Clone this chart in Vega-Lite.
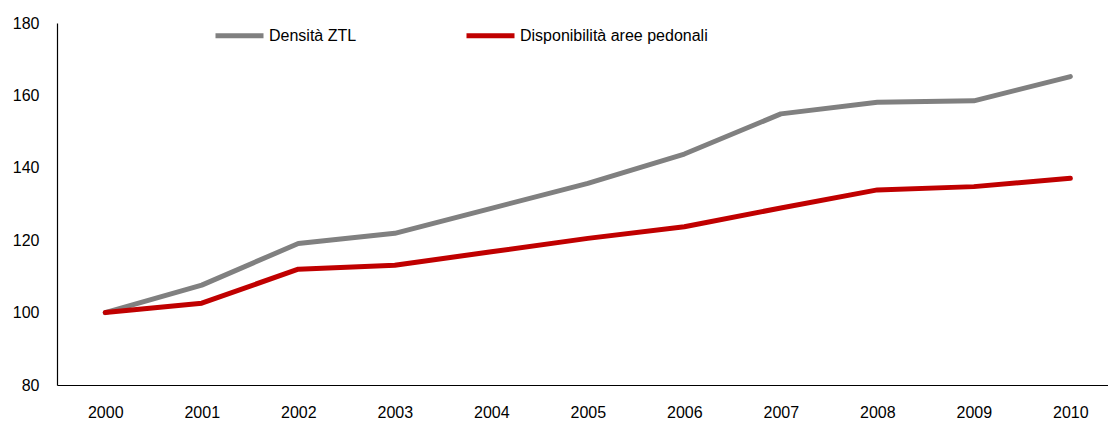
{
  "$schema": "https://vega.github.io/schema/vega-lite/v6.json",
  "width": 1051,
  "height": 362,
  "autosize": {"type": "none"},
  "padding": {"left": 57, "top": 23, "right": 0, "bottom": 37},
  "background": "white",
  "config": {
    "view": {"stroke": null},
    "font": "Liberation Sans"
  },
  "data": {
    "values": [
      {"year": 2000, "series": "Densità ZTL", "value": 100},
      {"year": 2001, "series": "Densità ZTL", "value": 107.6},
      {"year": 2002, "series": "Densità ZTL", "value": 119.1},
      {"year": 2003, "series": "Densità ZTL", "value": 121.9},
      {"year": 2004, "series": "Densità ZTL", "value": 128.8},
      {"year": 2005, "series": "Densità ZTL", "value": 135.7},
      {"year": 2006, "series": "Densità ZTL", "value": 143.8},
      {"year": 2007, "series": "Densità ZTL", "value": 154.9},
      {"year": 2008, "series": "Densità ZTL", "value": 158.1},
      {"year": 2009, "series": "Densità ZTL", "value": 158.5},
      {"year": 2010, "series": "Densità ZTL", "value": 165.2},
      {"year": 2000, "series": "Disponibilità aree pedonali", "value": 100},
      {"year": 2001, "series": "Disponibilità aree pedonali", "value": 102.6},
      {"year": 2002, "series": "Disponibilità aree pedonali", "value": 112.0},
      {"year": 2003, "series": "Disponibilità aree pedonali", "value": 113.1},
      {"year": 2004, "series": "Disponibilità aree pedonali", "value": 116.8},
      {"year": 2005, "series": "Disponibilità aree pedonali", "value": 120.5},
      {"year": 2006, "series": "Disponibilità aree pedonali", "value": 123.7},
      {"year": 2007, "series": "Disponibilità aree pedonali", "value": 128.9},
      {"year": 2008, "series": "Disponibilità aree pedonali", "value": 133.9},
      {"year": 2009, "series": "Disponibilità aree pedonali", "value": 134.8},
      {"year": 2010, "series": "Disponibilità aree pedonali", "value": 137.1}
    ]
  },
  "mark": {"type": "line", "strokeWidth": 5, "strokeCap": "round", "strokeJoin": "round"},
  "encoding": {
    "x": {
      "field": "year",
      "type": "quantitative",
      "scale": {"domain": [1999.5, 2010.39], "nice": false, "zero": false},
      "axis": {
        "title": null,
        "values": [2000, 2001, 2002, 2003, 2004, 2005, 2006, 2007, 2008, 2009, 2010],
        "format": "d",
        "grid": false,
        "ticks": false,
        "domainColor": "black",
        "domainWidth": 1.2,
        "labelFont": "Liberation Sans",
        "labelFontSize": 16,
        "labelColor": "black",
        "labelPadding": 19,
        "labelFlush": false,
        "labelOverlap": false
      }
    },
    "y": {
      "field": "value",
      "type": "quantitative",
      "scale": {"domain": [80, 180], "nice": false, "zero": false},
      "axis": {
        "title": null,
        "values": [80, 100, 120, 140, 160, 180],
        "grid": false,
        "ticks": false,
        "domainColor": "black",
        "domainWidth": 1.2,
        "labelFont": "Liberation Sans",
        "labelFontSize": 16,
        "labelColor": "black",
        "labelPadding": 18,
        "labelFlush": false,
        "labelOverlap": false
      }
    },
    "color": {
      "field": "series",
      "type": "nominal",
      "sort": ["Densità ZTL", "Disponibilità aree pedonali"],
      "scale": {"domain": ["Densità ZTL", "Disponibilità aree pedonali"], "range": ["#808080", "#C00000"]},
      "legend": {
        "title": null,
        "orient": "none",
        "direction": "horizontal",
        "columns": 2,
        "legendX": 156,
        "legendY": -14,
        "symbolType": "stroke",
        "symbolSize": 2304,
        "symbolStrokeWidth": 5,
        "labelFont": "Liberation Sans",
        "labelFontSize": 16,
        "labelColor": "black",
        "labelOffset": 3,
        "labelLimit": 400,
        "columnPadding": 99
      }
    }
  }
}
